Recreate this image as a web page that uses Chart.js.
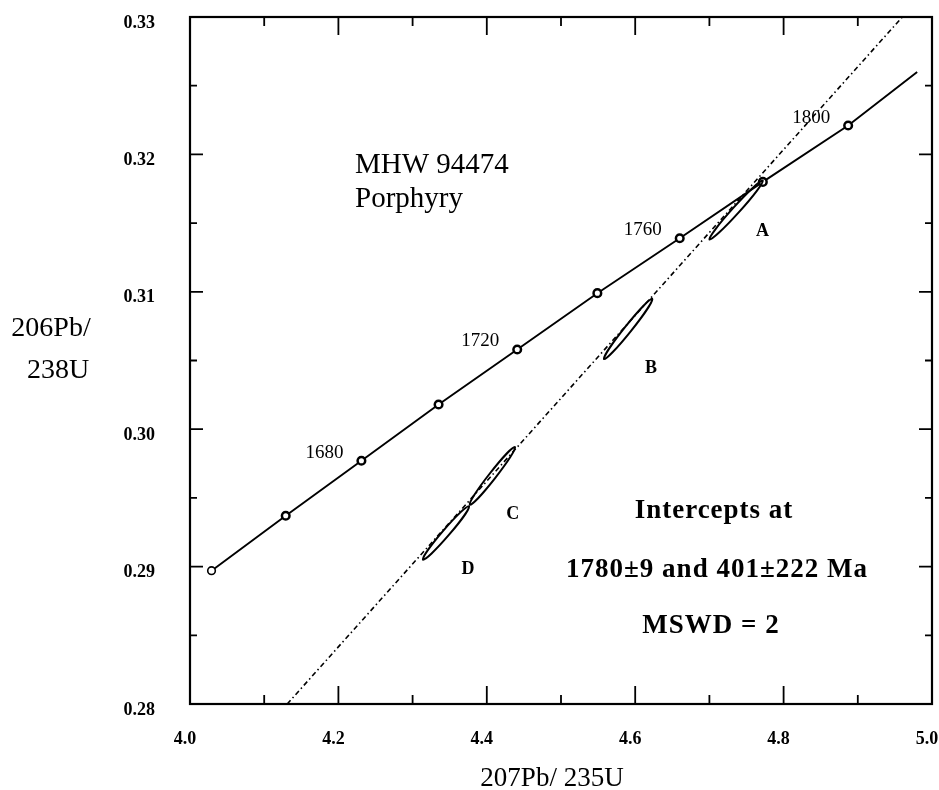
<!DOCTYPE html>
<html>
<head>
<meta charset="utf-8">
<script src="https://cdn.jsdelivr.net/npm/chart.js@4"></script>
<style>
  html, body { margin: 0; padding: 0; background: #fff; }
  #wrap { width: 939px; height: 790px; }
</style>
</head>
<body>
<div id="wrap"><canvas id="concordia"></canvas></div>
<script>
// axis ticks
const xTicks = [4.0, 4.2, 4.4, 4.6, 4.8, 5.0];
const xMinorTicks = [4.1, 4.3, 4.5, 4.7, 4.9];
const yTicks = [0.28, 0.29, 0.30, 0.31, 0.32, 0.33];
const yMinorTicks = [0.285, 0.295, 0.305, 0.315, 0.325];

// concordia, marked every 20 Ma from 1640 to 1800, last value is where the curve stops
const concordiaAges = [1640, 1660, 1680, 1700, 1720, 1740, 1760, 1780, 1800, null];
const concordiaX = [4.029, 4.129, 4.231, 4.335, 4.441, 4.549, 4.660, 4.772, 4.887, 4.980];
const concordiaY = [0.2897, 0.2937, 0.2977, 0.3018, 0.3058, 0.3099, 0.3139, 0.3180, 0.3221, 0.3260];
const labelledAges = [1680, 1720, 1760, 1800];

// discordia, ends at the frame
const discordiaX = [4.131, 4.960];
const discordiaY = [0.280, 0.330];

// error ellipses, ends of the long axis
const ellipseNames = ["A", "B", "C", "D"];
const ellipseX1 = [4.700, 4.558, 4.377, 4.314];
const ellipseY1 = [0.3138, 0.3051, 0.2945, 0.2905];
const ellipseX2 = [4.772, 4.623, 4.438, 4.376];
const ellipseY2 = [0.3181, 0.3095, 0.2987, 0.2944];

const serif = "'Liberation Serif', 'DejaVu Serif', serif";
const ellipseLabelOffsets = [[53, -8], [47, 9], [43, 10], [45, 10]];
const ageLabelOffset = [-37, -8];

// chart.js wants room for the end labels, the frame here is fixed
function noPad(s) {
  s.paddingLeft = s.paddingRight = s.paddingTop = s.paddingBottom = 0;
}

const overlay = {
  id: 'overlay',
  afterDatasetsDraw(chart) {
    const { ctx, scales: { x, y } } = chart;
    ctx.save();
    ctx.strokeStyle = '#000';
    ctx.fillStyle = '#000';
    ctx.lineWidth = 2;
    ctx.textAlign = 'center';
    ctx.textBaseline = 'middle';

    // ellipses + letters
    ellipseNames.forEach((name, i) => {
      const x1 = x.getPixelForValue(ellipseX1[i]), y1 = y.getPixelForValue(ellipseY1[i]);
      const x2 = x.getPixelForValue(ellipseX2[i]), y2 = y.getPixelForValue(ellipseY2[i]);
      ctx.beginPath();
      ctx.ellipse((x1 + x2) / 2, (y1 + y2) / 2, Math.hypot(x2 - x1, y2 - y1) / 2, 3.5,
        Math.atan2(y2 - y1, x2 - x1), 0, Math.PI * 2);
      ctx.stroke();
      ctx.font = 'bold 18px ' + serif;
      ctx.fillText(name, x1 + ellipseLabelOffsets[i][0], y1 + ellipseLabelOffsets[i][1]);
    });

    // age labels on the concordia
    ctx.font = '19px ' + serif;
    labelledAges.forEach(age => {
      const i = concordiaAges.indexOf(age);
      ctx.fillText(String(age), x.getPixelForValue(concordiaX[i]) + ageLabelOffset[0],
        y.getPixelForValue(concordiaY[i]) + ageLabelOffset[1]);
    });
    ctx.restore();
  },
  afterDraw(chart) {
    const { ctx, chartArea: a, scales: { x, y } } = chart;
    ctx.save();
    ctx.strokeStyle = '#000';
    ctx.fillStyle = '#000';

    // frame
    ctx.lineWidth = 2.2;
    ctx.strokeRect(a.left, a.top, a.right - a.left, a.bottom - a.top);

    // inward ticks on all four sides
    ctx.lineWidth = 1.8;
    ctx.beginPath();
    const xt = (v, len) => {
      const px = x.getPixelForValue(v);
      ctx.moveTo(px, a.bottom); ctx.lineTo(px, a.bottom - len);
      ctx.moveTo(px, a.top); ctx.lineTo(px, a.top + len);
    };
    const yt = (v, len) => {
      const py = y.getPixelForValue(v);
      ctx.moveTo(a.left, py); ctx.lineTo(a.left + len, py);
      ctx.moveTo(a.right, py); ctx.lineTo(a.right - len, py);
    };
    xTicks.forEach(v => xt(v, 18));
    xMinorTicks.forEach(v => xt(v, 9));
    yTicks.forEach(v => yt(v, 13));
    yMinorTicks.forEach(v => yt(v, 7));
    ctx.stroke();

    // notes
    ctx.textBaseline = 'alphabetic';
    ctx.font = '29px ' + serif;
    ctx.textAlign = 'left';
    ctx.fillText('MHW 94474', 355, 173);
    ctx.fillText('Porphyry', 355, 207);

    ctx.font = 'bold 27px ' + serif;
    ctx.letterSpacing = '1px';
    ctx.textAlign = 'center';
    ctx.fillText('Intercepts at', 714, 518);
    ctx.fillText('1780\u00b19 and 401\u00b1222 Ma', 717, 577);
    ctx.fillText('MSWD = 2', 711, 633);
    ctx.letterSpacing = '0px';

    // axis titles
    ctx.font = '28px ' + serif;
    ctx.fillText('206Pb/', 51, 336);
    ctx.fillText('238U', 58, 378);
    ctx.font = '27px ' + serif;
    ctx.fillText('207Pb/ 235U', 552, 786);
    ctx.restore();
  }
};

const ctx = document.getElementById('concordia').getContext('2d');
new Chart(ctx, {
  type: 'scatter',
  data: {
    datasets: [
      {
        label: 'Discordia',
        data: discordiaX.map((v, i) => ({ x: v, y: discordiaY[i] })),
        showLine: true,
        borderColor: '#000',
        borderWidth: 1.6,
        borderDash: [5, 3, 1.5, 3],
        pointRadius: 0
      },
      {
        label: 'Concordia',
        data: concordiaX.map((v, i) => ({ x: v, y: concordiaY[i] })),
        showLine: true,
        borderColor: '#000',
        borderWidth: 1.9,
        pointRadius: c => concordiaAges[c.dataIndex] ? 3.8 : 0,
        pointBorderWidth: c => c.dataIndex === 0 ? 1.6 : 2.5,
        pointBackgroundColor: '#fff',
        pointBorderColor: '#000'
      }
    ]
  },
  options: {
    responsive: true,
    maintainAspectRatio: false,
    animation: false,
    layout: { padding: { left: 0, top: 17, right: 7, bottom: 0 } },
    plugins: {
      legend: { display: false },
      tooltip: { enabled: false }
    },
    scales: {
      x: {
        type: 'linear',
        min: 4.0,
        max: 5.0,
        afterBuildTicks: s => { s.ticks = xTicks.map(v => ({ value: v })); },
        afterFit: s => { s.height = 86; noPad(s); },
        grid: { display: false },
        border: { display: false },
        ticks: {
          color: '#000',
          padding: 17,
          labelOffset: -5,
          font: { family: serif, size: 18, weight: 'bold' },
          callback: v => Number(v).toFixed(1)
        }
      },
      y: {
        type: 'linear',
        min: 0.28,
        max: 0.33,
        afterBuildTicks: s => { s.ticks = yTicks.map(v => ({ value: v })); },
        afterFit: s => { s.width = 190; noPad(s); },
        grid: { display: false },
        border: { display: false },
        ticks: {
          color: '#000',
          padding: 27,
          labelOffset: 6,
          font: { family: serif, size: 18, weight: 'bold' },
          callback: v => Number(v).toFixed(2)
        }
      }
    }
  },
  plugins: [overlay]
});
</script>
</body>
</html>
